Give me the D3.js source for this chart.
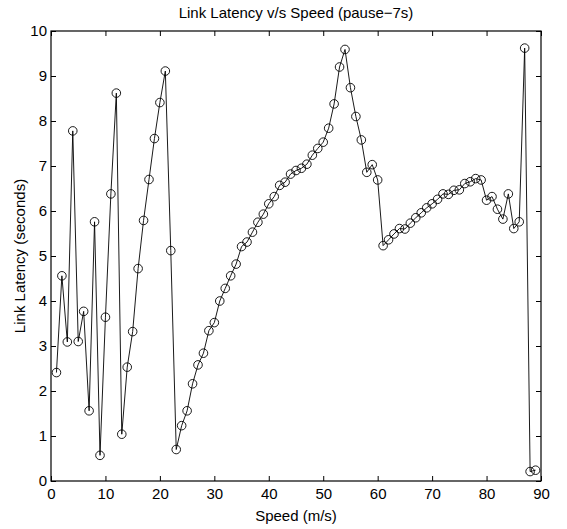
<!DOCTYPE html>
<html>
<head>
<meta charset="utf-8">
<script src="https://cdn.jsdelivr.net/npm/d3@7"></script>
<style>
  body { margin: 0; background: #fff; }
  text { font-family: "Liberation Sans", Arial, sans-serif; fill: #000; }
</style>
</head>
<body>
<svg id="chart" width="567" height="529"></svg>
<script>
const speeds = d3.range(1, 90);
const latency = [
  2.41, 4.56, 3.09, 7.78, 3.10, 3.77, 1.56, 5.76, 0.57, 3.64,
  6.38, 8.62, 1.04, 2.53, 3.32, 4.72, 5.79, 6.70, 7.61, 8.41,
  9.11, 5.12, 0.70, 1.23, 1.56, 2.16, 2.58, 2.84, 3.34, 3.52,
  4.00, 4.28, 4.56, 4.82, 5.21, 5.31, 5.53, 5.75, 5.93, 6.16,
  6.32, 6.57, 6.64, 6.82, 6.90, 6.95, 7.04, 7.24, 7.39, 7.53,
  7.84, 8.38, 9.20, 9.59, 8.74, 8.10, 7.58, 6.86, 7.03, 6.69,
  5.23, 5.36, 5.49, 5.61, 5.60, 5.73, 5.85, 5.96, 6.07, 6.16,
  6.26, 6.38, 6.37, 6.46, 6.47, 6.61, 6.65, 6.72, 6.69, 6.24,
  6.32, 6.04, 5.82, 6.38, 5.61, 5.76, 9.62, 0.21, 0.24
];
const xTicks = d3.range(0, 91, 10);
const yTicks = d3.range(0, 11, 1);

const data = speeds.map((s, i) => ({ x: s, y: latency[i] }));

const m = { left: 51, right: 541, top: 31, bottom: 481 };

const x = d3.scaleLinear().domain([0, 90]).range([m.left, m.right]);
const y = d3.scaleLinear().domain([0, 10]).range([m.bottom, m.top]);

const svg = d3.select("#chart");

// axes box, ticks point inward on all four sides
svg.append("g")
    .attr("transform", `translate(0,${m.bottom})`)
    .call(d3.axisBottom(x).tickValues(xTicks).tickSizeInner(-5).tickSizeOuter(0).tickPadding(7))
    .call(g => g.select(".domain").remove())
    .call(g => g.selectAll("text").style("font-size", "15px"));
svg.append("g")
    .attr("transform", `translate(0,${m.top})`)
    .call(d3.axisTop(x).tickValues(xTicks).tickSizeInner(-5).tickSizeOuter(0).tickFormat(""))
    .call(g => g.select(".domain").remove());
svg.append("g")
    .attr("transform", `translate(${m.left},0)`)
    .call(d3.axisLeft(y).tickValues(yTicks).tickSizeInner(-5).tickSizeOuter(0).tickPadding(4))
    .call(g => g.select(".domain").remove())
    .call(g => g.selectAll("text").style("font-size", "15px"));
svg.append("g")
    .attr("transform", `translate(${m.right},0)`)
    .call(d3.axisRight(y).tickValues(yTicks).tickSizeInner(-5).tickSizeOuter(0).tickFormat(""))
    .call(g => g.select(".domain").remove());

svg.append("rect")
    .attr("x", m.left).attr("y", m.top)
    .attr("width", m.right - m.left).attr("height", m.bottom - m.top)
    .attr("fill", "none").attr("stroke", "#000").attr("stroke-width", 1.2);

// line + circle markers
svg.append("path")
    .datum(data)
    .attr("fill", "none")
    .attr("stroke", "#000")
    .attr("stroke-width", 0.9)
    .attr("d", d3.line().x(d => x(d.x)).y(d => y(d.y)));

svg.append("g")
    .selectAll("circle")
    .data(data)
    .join("circle")
    .attr("cx", d => x(d.x))
    .attr("cy", d => y(d.y))
    .attr("r", 4.3)
    .attr("fill", "none")
    .attr("stroke", "#000")
    .attr("stroke-width", 0.9);

// labels
svg.append("text")
    .attr("x", (m.left + m.right) / 2).attr("y", 18)
    .attr("text-anchor", "middle")
    .style("font-size", "15px")
    .text("Link Latency v/s Speed (pause\u22127s)");

svg.append("text")
    .attr("x", (m.left + m.right) / 2).attr("y", 521)
    .attr("text-anchor", "middle")
    .style("font-size", "15px")
    .text("Speed (m/s)");

svg.append("text")
    .attr("transform", `translate(25,${(m.top + m.bottom) / 2}) rotate(-90)`)
    .attr("text-anchor", "middle")
    .style("font-size", "15px")
    .text("Link Latency (seconds)");
</script>
</body>
</html>
